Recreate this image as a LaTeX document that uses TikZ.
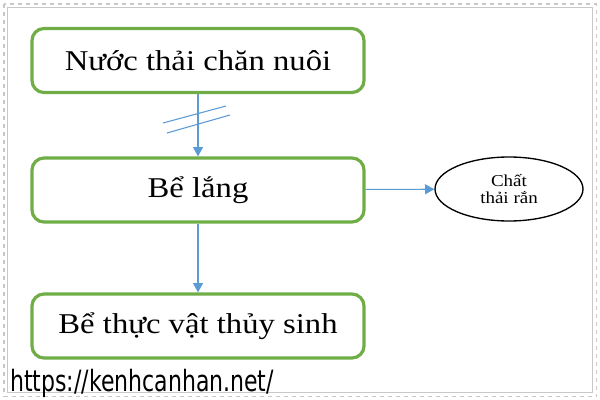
\documentclass[tikz,border=0pt]{standalone}
\usepackage{fontspec}
\setmainfont{Liberation Serif}[FakeStretch=1.14]
\newfontfamily\urlfont{DejaVu Sans}[FakeStretch=0.75]
\usetikzlibrary{arrows.meta}
\usetikzlibrary{shapes.geometric}
\definecolor{boxgreen}{RGB}{112,173,71}
\definecolor{flowblue}{RGB}{91,155,213}
\definecolor{framegray}{RGB}{200,200,200}
\tikzset{stage/.style={draw=boxgreen,line width=2.4pt,rounded corners=9pt,minimum width=249pt,minimum height=48pt,font=\fontsize{21.5}{24}\selectfont}}

\begin{document}
\begin{tikzpicture}[x=0.75pt,y=-0.75pt]
\tikzset{flow/.style={draw=flowblue,line width=0.8pt,-{Triangle[length=7pt,width=7.5pt]}}}
\tikzset{waste/.style={draw=black,line width=1pt,ellipse,minimum width=111pt,minimum height=48pt,inner sep=0pt,align=center,font=\fontsize{12.5}{13}\selectfont}}
\useasboundingbox (0,0) rectangle (600,400);
% frame
\draw[framegray,line width=1.2pt,dashed] (4,4) rectangle (596.5,396.5);
\draw[framegray,line width=0.8pt] (7.5,7.5) rectangle (592.5,392.5);
% stages
\node[stage] (nuoc) at (198,60.5) {Nước thải chăn nuôi};
\node[stage] (lang) at (198,190) {Bể lắng};
\node[stage] (thucvat) at (198,326) {Bể thực vật thủy sinh};
\node[waste] (ran) at (509,189) {Chất\\thải rắn};
% connectors
\draw[flow] (nuoc) -- (lang);
\draw[flow] (lang) -- (thucvat);
\draw[flow] (lang) -- (ran);
\draw[flowblue,line width=0.8pt] (163,123) -- (226,106);
\draw[flowblue,line width=0.8pt] (167,133) -- (230,115);
\node[anchor=base west,inner sep=0pt,font=\urlfont\fontsize{22}{24}\selectfont] (url) at (10,391) {https://kenhcanhan.net/};
\end{tikzpicture}
\end{document}
